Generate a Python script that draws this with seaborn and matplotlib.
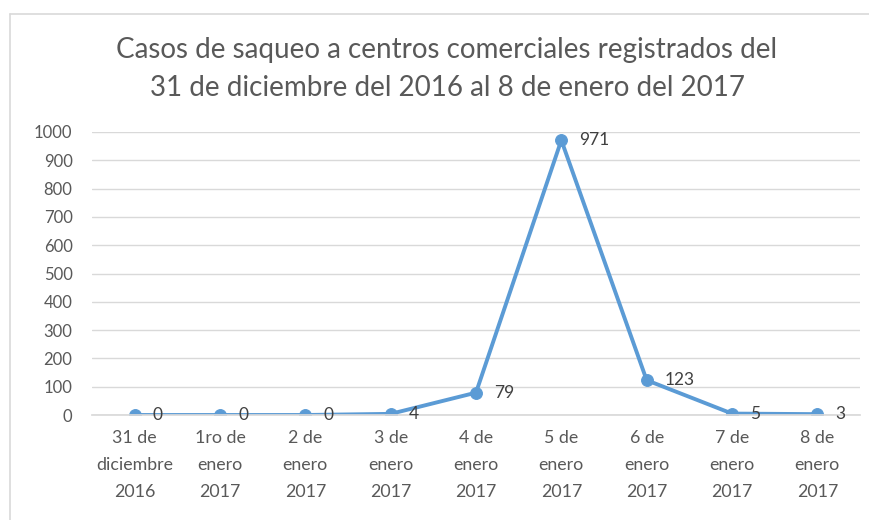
import pandas as pd
import seaborn as sns
import matplotlib.pyplot as plt
from matplotlib.lines import Line2D

fechas = ["31 de\ndiciembre\n2016", "1ro de\nenero\n2017", "2 de\nenero\n2017",
          "3 de\nenero\n2017", "4 de\nenero\n2017", "5 de\nenero\n2017",
          "6 de\nenero\n2017", "7 de\nenero\n2017", "8 de\nenero\n2017"]
casos = [0, 0, 0, 4, 79, 971, 123, 5, 3]

df = pd.DataFrame({"fecha": fechas, "casos": casos})

sns.set_theme(style="white")
plt.rcParams['font.family'] = ['Lato', 'DejaVu Sans']

fig = plt.figure(figsize=(8.69, 5.2), dpi=100)
ax = fig.add_axes([92 / 869, 105 / 520, 768 / 869, 283 / 520])

azul = "#5B9BD5"
sns.lineplot(data=df, x="fecha", y="casos", ax=ax, color=azul, linewidth=2.8,
             marker="o", markersize=8.5, markeredgecolor=azul, sort=False)

for i, v in enumerate(casos):
    ax.annotate(str(v), (i, v), xytext=(13, 0), textcoords="offset points",
                ha="left", va="center", fontsize=12.5, color="#404040")

ax.set_xlim(-0.5, len(fechas) - 0.5)
ax.set_ylim(0, 1000)
ax.set_yticks(range(0, 1001, 100))
ax.yaxis.grid(True, color="#D9D9D9", linewidth=1)
ax.set_axisbelow(True)
for s in ["top", "right", "left"]:
    ax.spines[s].set_visible(False)
ax.spines["bottom"].set_color("#D9D9D9")
ax.tick_params(axis="both", length=0, labelsize=12, labelcolor="#595959")
ax.tick_params(axis="x", pad=11, labelsize=12.8)
ax.tick_params(axis="y", pad=14)
ax.set_xlabel("")
ax.set_ylabel("")
for lab in ax.get_xticklabels():
    lab.set_linespacing(1.85)

fig.text(447 / 869, 1 - 69 / 520,
         "Casos de saqueo a centros comerciales registrados del\n31 de diciembre del 2016 al 8 de enero del 2017",
         ha="center", va="center", fontsize=20, color="#595959", linespacing=1.6)

# marco del gráfico
fig.add_artist(Line2D([10 / 869, 1], [1 - 14 / 520, 1 - 14 / 520], color="#D9D9D9", linewidth=1.2))
fig.add_artist(Line2D([10 / 869, 10 / 869], [0, 1 - 14 / 520], color="#D9D9D9", linewidth=1.2))

fig.savefig("out.png", dpi=100)
